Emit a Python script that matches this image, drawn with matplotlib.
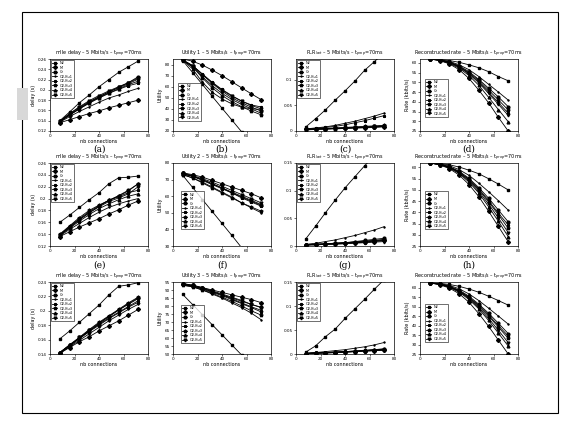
# Import Modules
import numpy as np
import matplotlib.pyplot as plt
from matplotlib.patches import Rectangle
from matplotlib.ticker import FormatStrFormatter

# nb of connections
x = [8, 16, 24, 32, 40, 48, 56, 64, 72]
names = ['N2', 'M', 'Cr', 'O2-Ku1', 'O2-Ku2', 'O2-Ku3', 'O2-Ku4', 'O2-Ku5']
marks = ['s', 'D', 'o', '+', '*', 'p', '^', 'v']

# ---- row 1 ----
delay1 = [
    [0.140, 0.157, 0.175, 0.190, 0.206, 0.220, 0.234, 0.245, 0.256],
    [0.136, 0.142, 0.148, 0.154, 0.159, 0.165, 0.170, 0.175, 0.180],
    [0.138, 0.152, 0.164, 0.176, 0.186, 0.196, 0.205, 0.214, 0.2255],
    [0.137, 0.148, 0.158, 0.167, 0.176, 0.184, 0.190, 0.197, 0.203],
    [0.138, 0.151, 0.163, 0.174, 0.184, 0.193, 0.201, 0.208, 0.213],
    [0.139, 0.153, 0.166, 0.177, 0.187, 0.196, 0.204, 0.212, 0.221],
    [0.138, 0.151, 0.163, 0.175, 0.185, 0.194, 0.202, 0.210, 0.217],
    [0.139, 0.154, 0.167, 0.179, 0.189, 0.198, 0.206, 0.214, 0.223],
]
util1 = [
    [83.5, 72.8, 62, 51.3, 40.6, 30, 19.3, 8.6, -2],
    [85, 83, 79.5, 75, 70, 64.5, 59, 53.5, 48.3],
    [84, 79, 71, 63, 56, 50, 45.5, 41.5, 38],
    [84, 78, 69, 61, 54, 48.5, 44, 40, 36],
    [84, 79, 71.5, 64, 57.5, 52, 47, 43.5, 41.7],
    [84, 78, 68, 59, 52, 46.5, 42, 38, 34.6],
    [84, 76, 64, 55, 49, 44.5, 41.5, 40, 39.5],
    [84, 79, 71, 63.5, 57, 51.5, 47, 43, 40],
]
plr1 = [
    [0.008, 0.024, 0.041, 0.060, 0.078, 0.097, 0.118, 0.135, 0.152],
    [0.004, 0.004, 0.004, 0.005, 0.005, 0.006, 0.006, 0.007, 0.008],
    [0.003, 0.004, 0.004, 0.005, 0.006, 0.006, 0.007, 0.008, 0.009],
    [0.004, 0.006, 0.008, 0.011, 0.015, 0.019, 0.024, 0.029, 0.035],
    [0.003, 0.005, 0.007, 0.009, 0.012, 0.016, 0.020, 0.025, 0.030],
    [0.003, 0.004, 0.005, 0.006, 0.007, 0.008, 0.009, 0.010, 0.011],
    [0.002, 0.003, 0.004, 0.004, 0.005, 0.006, 0.007, 0.008, 0.009],
    [0.003, 0.004, 0.004, 0.005, 0.006, 0.007, 0.008, 0.009, 0.010],
]
rate1 = [
    [62, 61.8, 61.2, 60.3, 59, 57.5, 55.5, 53, 50.8],
    [62, 61.2, 59.5, 56.5, 52, 46, 39.5, 32, 25],
    [62, 61.5, 60.5, 58.5, 55.5, 51.5, 47, 42.5, 37.5],
    [62, 61.6, 60.8, 59, 56.5, 53, 49, 45, 40.9],
    [62, 61.4, 60.2, 58, 54.6, 50.3, 45, 39.6, 34.2],
    [62, 61.5, 60.3, 58.2, 55, 51, 46, 41, 35.8],
    [62, 61.3, 59.8, 57.3, 53.5, 48.5, 42.3, 36, 29.8],
    [62, 61.4, 60, 57.8, 54.3, 49.8, 44.3, 38.7, 33],
]

# ---- row 2 ----
delay2 = [
    [0.160, 0.172, 0.185, 0.198, 0.210, 0.225, 0.235, 0.236, 0.238],
    [0.136, 0.144, 0.152, 0.159, 0.166, 0.174, 0.181, 0.189, 0.196],
    [0.138, 0.151, 0.164, 0.176, 0.187, 0.197, 0.205, 0.214, 0.225],
    [0.137, 0.148, 0.158, 0.168, 0.177, 0.185, 0.191, 0.196, 0.200],
    [0.139, 0.153, 0.166, 0.178, 0.188, 0.197, 0.203, 0.210, 0.214],
    [0.140, 0.154, 0.168, 0.180, 0.189, 0.197, 0.204, 0.213, 0.225],
    [0.138, 0.150, 0.162, 0.173, 0.183, 0.191, 0.198, 0.204, 0.208],
    [0.139, 0.152, 0.165, 0.176, 0.186, 0.195, 0.201, 0.208, 0.220],
]
util2 = [
    [72.5, 65.3, 58, 50.8, 43.6, 36.4, 29, 22, 15],
    [74, 73, 71.5, 69.5, 67.5, 65.5, 63.5, 61.5, 59],
    [73.5, 72, 70, 67.5, 65, 62.5, 60, 57.5, 55],
    [73, 71, 68.5, 65.5, 62.5, 59.5, 56, 53, 50],
    [73.5, 72, 69.5, 67, 64.5, 62, 59, 56.5, 54],
    [73, 71, 68, 65, 62, 59, 56, 53.5, 51],
    [73.5, 72, 70, 67.5, 65, 62, 59.5, 57, 54.5],
    [74, 72.5, 70.5, 68.5, 66, 63.5, 61, 58.5, 56],
]
plr2 = [
    [0.013, 0.036, 0.060, 0.083, 0.105, 0.125, 0.145, 0.163, 0.180],
    [0.002, 0.003, 0.003, 0.004, 0.005, 0.006, 0.007, 0.008, 0.010],
    [0.002, 0.003, 0.004, 0.005, 0.006, 0.008, 0.010, 0.012, 0.014],
    [0.003, 0.005, 0.008, 0.011, 0.015, 0.019, 0.024, 0.029, 0.035],
    [0.002, 0.003, 0.004, 0.005, 0.006, 0.007, 0.009, 0.010, 0.012],
    [0.002, 0.002, 0.003, 0.004, 0.005, 0.006, 0.007, 0.009, 0.010],
    [0.002, 0.003, 0.004, 0.005, 0.006, 0.007, 0.008, 0.010, 0.011],
    [0.002, 0.002, 0.003, 0.003, 0.004, 0.005, 0.006, 0.007, 0.008],
]
rate2 = [
    [62, 61.8, 61.2, 60.2, 58.8, 57.2, 55, 52.6, 50],
    [62, 61.2, 59.5, 56.6, 52.4, 47, 40.5, 33.7, 26.9],
    [62, 61.5, 60.4, 58.3, 55.2, 51, 46.3, 41, 35.8],
    [62, 61.6, 60.8, 59, 56.5, 53, 49.2, 45.2, 41],
    [62, 61.4, 60.2, 58, 54.7, 50.4, 45.3, 39.6, 34.4],
    [62, 61.4, 60.1, 57.9, 54.5, 50, 44.7, 38.9, 32.9],
    [62, 61.3, 59.8, 57.3, 53.5, 48.6, 42.5, 36, 29.2],
    [62, 61.4, 60, 57.6, 54, 49.3, 43.7, 37.5, 31],
]

# ---- row 3 ----
delay3 = [
    [0.161, 0.172, 0.184, 0.196, 0.208, 0.222, 0.234, 0.236, 0.239],
    [0.141, 0.149, 0.157, 0.164, 0.172, 0.179, 0.186, 0.194, 0.202],
    [0.142, 0.152, 0.162, 0.172, 0.182, 0.192, 0.201, 0.210, 0.218],
    [0.141, 0.150, 0.159, 0.168, 0.177, 0.186, 0.194, 0.202, 0.209],
    [0.142, 0.152, 0.162, 0.172, 0.181, 0.190, 0.198, 0.206, 0.214],
    [0.142, 0.153, 0.163, 0.174, 0.184, 0.193, 0.202, 0.211, 0.219],
    [0.141, 0.151, 0.161, 0.171, 0.180, 0.189, 0.197, 0.205, 0.212],
    [0.142, 0.152, 0.163, 0.173, 0.183, 0.192, 0.201, 0.209, 0.217],
]
util3 = [
    [87.2, 80.9, 74.6, 68.3, 62, 55.7, 49.4, 43, 36.8],
    [94, 93, 91.5, 90, 88.5, 87, 85.5, 84, 82.1],
    [93.5, 92.5, 91, 89, 87, 85, 83, 81, 79.2],
    [93, 92, 90, 87.5, 85, 82, 79, 75.5, 71.4],
    [93.5, 92.5, 90.5, 88.5, 86.5, 84, 81.5, 79, 76.3],
    [93, 92, 90, 88, 85.5, 83, 80, 77, 74.3],
    [93.5, 92.5, 91, 89, 87, 84.5, 82, 79.5, 77.3],
    [94, 93, 91.5, 89.5, 87.5, 85.5, 83.5, 81, 79],
]
plr3 = [
    [0.004, 0.017, 0.036, 0.052, 0.074, 0.094, 0.114, 0.135, 0.155],
    [0.001, 0.002, 0.002, 0.003, 0.004, 0.005, 0.006, 0.007, 0.008],
    [0.001, 0.002, 0.003, 0.004, 0.005, 0.006, 0.007, 0.009, 0.010],
    [0.002, 0.003, 0.005, 0.007, 0.009, 0.012, 0.015, 0.019, 0.024],
    [0.001, 0.002, 0.003, 0.004, 0.005, 0.006, 0.008, 0.009, 0.011],
    [0.001, 0.002, 0.003, 0.003, 0.004, 0.005, 0.007, 0.008, 0.009],
    [0.001, 0.002, 0.003, 0.004, 0.005, 0.006, 0.007, 0.008, 0.010],
    [0.001, 0.002, 0.002, 0.003, 0.004, 0.005, 0.006, 0.007, 0.008],
]
rate3 = [
    [62.5, 62.3, 61.7, 60.7, 59.3, 57.6, 55.5, 53.2, 50.8],
    [62.5, 61.6, 59.8, 56.8, 52.3, 46.3, 39.6, 32.3, 25],
    [62.5, 62, 60.8, 58.7, 55.5, 51.3, 46.5, 41.2, 35.8],
    [62.5, 62.1, 61.2, 59.4, 56.7, 53.2, 49.2, 45, 40.8],
    [62.5, 61.9, 60.6, 58.4, 55, 50.7, 45.6, 40, 34.5],
    [62.5, 61.9, 60.5, 58.2, 54.7, 50.2, 45, 39.2, 33.3],
    [62.5, 61.8, 60.2, 57.6, 53.8, 48.8, 42.7, 36, 29.2],
    [62.5, 61.8, 60.4, 58, 54.3, 49.5, 43.8, 37.5, 31],
]

rows = [
    [delay1, util1, plr1, rate1],
    [delay2, util2, plr2, rate2],
    [delay3, util3, plr3, rate3],
]
tprop = r' – 5 Mbits/s – t$_{prop}$=70ms'
titles = [
    ['mlle delay', 'Utility 1', r'PLR$_{last}$', 'Reconstructed rate'],
    ['mlle delay', 'Utility 2', r'PLR$_{last}$', 'Reconstructed rate'],
    ['mlle delay', 'Utility 3', r'PLR$_{last}$', 'Reconstructed rate'],
]
ylabels = ['delay (s)', 'Utility', '', 'Rate (kbits/s)']
ylims = [
    [(0.12, 0.26), (20, 85), (0, 0.14), (25, 62)],
    [(0.12, 0.26), (30, 80), (0, 0.15), (25, 62)],
    [(0.14, 0.24), (50, 95), (0, 0.15), (25, 63)],
]
ysteps = [0.02, 10, 0.05, 5]
ysteps3 = [0.02, 5, 0.05, 5]
captions = ['(a)', '(b)', '(c)', '(d)', '(e)', '(f)', '(g)', '(h)']

# legend placement (loc, anchor in axes coords)
legpos = [
    [('upper left', (0, 1)), ('lower left', (0.04, 0.13)),
     ('upper left', (0, 1)), ('center left', (0.04, 0.46))],
    [('upper left', (0, 1)), ('lower left', (0.07, 0.19)),
     ('upper left', (0, 1)), ('center left', (0.04, 0.43))],
    [('upper left', (0, 1)), ('lower left', (0.07, 0.14)),
     ('upper left', (0, 1)), ('center left', (0.04, 0.43))],
]

W, H = 580.0, 428.0
lefts = [50, 173, 296, 420]
tops = [59, 163, 282]
bots = [131, 246, 354]
cap_y = [149, 265]

fig = plt.figure(figsize=(5.8, 4.28), dpi=100)
fig.patches.append(Rectangle((22 / W, 1 - 413 / H), 536 / W, 401 / H,
                             transform=fig.transFigure, fill=False,
                             edgecolor='black', linewidth=0.8))
fig.patches.append(Rectangle((17 / W, 1 - 120 / H), 11 / W, 32 / H,
                             transform=fig.transFigure, facecolor='#d8d8d8',
                             edgecolor='none'))

for r in range(3):
    for c in range(4):
        ax = fig.add_axes([lefts[c] / W, 1 - bots[r] / H, 98 / W,
                           (bots[r] - tops[r]) / H])
        for k in range(8):
            ax.plot(x, rows[r][c][k], '-', color='black', marker=marks[k],
                    markersize=2, linewidth=0.6, label=names[k])
        lo, hi = ylims[r][c]
        st = ysteps3[c] if r == 2 else ysteps[c]
        ax.set_xlim(0, 80)
        ax.set_ylim(lo, hi)
        ax.set_xticks([0, 20, 40, 60, 80])
        ax.set_yticks(np.arange(lo, hi + st * 0.01, st))
        ax.yaxis.set_major_formatter(FormatStrFormatter('%g'))
        ax.tick_params(labelsize=3, length=1.5, width=0.4, pad=1)
        for s in ax.spines.values():
            s.set_linewidth(0.5)
        ax.set_xlabel('nb connections', fontsize=3.5, labelpad=0.5)
        if ylabels[c]:
            ax.set_ylabel(ylabels[c], fontsize=3.5, labelpad=1)
        ax.set_title(titles[r][c] + tprop, fontsize=3.5, pad=2)
        loc, anc = legpos[r][c]
        leg = ax.legend(loc=loc, bbox_to_anchor=anc, fontsize=2.5,
                        frameon=True, fancybox=False, edgecolor='black',
                        handlelength=1.5, borderpad=0.3, labelspacing=0.15,
                        borderaxespad=0.3)
        leg.get_frame().set_linewidth(0.5)
        if r < 2:
            fig.text((lefts[c] + 49) / W, 1 - cap_y[r] / H,
                     captions[r * 4 + c], ha='center', va='center',
                     fontsize=6.5, family='serif')

plt.savefig('out.png', dpi=100)
